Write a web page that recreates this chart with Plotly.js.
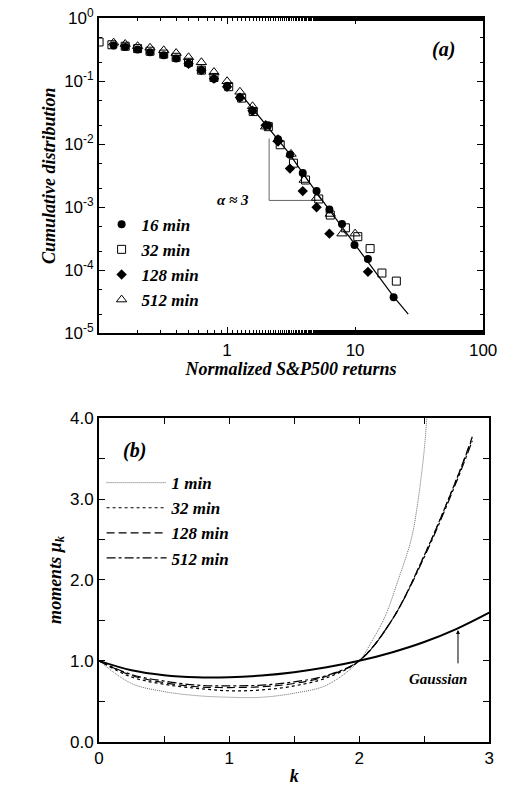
<!DOCTYPE html>
<html>
<head>
<script src="https://cdn.plot.ly/plotly-3.0.1.min.js"></script>
<style>body{margin:0;background:#fff}</style>
</head>
<body>
<div id="plot" style="width:508px;height:795px"></div>
<script>
// panel (a): cumulative distribution
var x16=[0.13,0.16,0.2,0.25,0.32,0.4,0.5,0.63,0.79,1.0,1.26,1.58,2.09,2.5,3.1,3.9,5.0,6.3,7.9,9.9,12.6,20];
var y16=[0.37,0.35,0.32,0.29,0.26,0.23,0.19,0.15,0.11,0.083,0.055,0.034,0.02,0.012,0.0068,0.0035,0.0018,0.00092,0.00054,0.00025,0.00015,0.000037];
var x32=[0.1,0.126,0.16,0.2,0.25,0.32,0.4,0.5,0.63,0.79,1.03,1.3,1.6,2.1,2.6,3.3,4.1,5.2,6.4,8.4,10.5,13.1,16.2,21];
var y32=[0.42,0.38,0.36,0.33,0.30,0.27,0.24,0.2,0.15,0.115,0.082,0.054,0.033,0.019,0.0098,0.005,0.0027,0.00135,0.00075,0.00047,0.00034,0.00022,0.00009,0.000067];
var x128=[0.5,0.63,0.79,1.0,1.26,1.58,2.0,2.5,3.1,3.9,5.0,6.3,12.6];
var y128=[0.19,0.15,0.11,0.082,0.055,0.034,0.02,0.011,0.0041,0.0018,0.001,0.00038,0.000094];
var x512=[0.13,0.16,0.2,0.25,0.32,0.4,0.5,0.63,0.79,1.0,1.26,1.58,2.0,2.5,3.16,4.0,5.0,6.4,7.9,10];
var y512=[0.41,0.39,0.36,0.34,0.31,0.28,0.24,0.2,0.14,0.1,0.068,0.04,0.019,0.012,0.007,0.0027,0.0014,0.00078,0.00038,0.00038];
var xFit=[1.3,2,3,5,10,20,26];
var yFit=[0.06,0.021,0.0075,0.0017,0.00026,0.000038,0.00002];
// slope triangle
var xTri=[2.13,2.13,5.0];
var yTri=[0.0123,0.00128,0.00128];

// panel (b): moments
var kGrid=[0,0.25,0.5,0.75,1,1.25,1.5,1.75,2,2.25,2.5,2.75,3];
var gauss=[1,0.883,0.822,0.797,0.798,0.819,0.86,0.92,1,1.104,1.233,1.396,1.596];
var k1=[0,0.25,0.5,0.75,1,1.25,1.5,1.75,2,2.1,2.2,2.3,2.4,2.45,2.5,2.52];
var m1=[1,0.72,0.62,0.57,0.55,0.55,0.6,0.7,1,1.25,1.55,2.0,2.5,2.95,3.6,4.0];
var kT=[0,0.25,0.5,0.75,1,1.25,1.5,1.75,2,2.25,2.5,2.75,2.87];
var m32=[1,0.8,0.71,0.66,0.63,0.64,0.69,0.79,1,1.5,2.3,3.25,3.75];
var m128=[1,0.82,0.73,0.68,0.67,0.68,0.72,0.81,1,1.5,2.3,3.25,3.77];
var m512=[1,0.83,0.75,0.7,0.69,0.7,0.74,0.82,1,1.5,2.28,3.22,3.72];

var serif={family:'Liberation Serif',size:18,color:'#000',weight:'bold',style:'italic'};
var leg={family:'Liberation Serif',size:17,color:'#000',weight:'bold',style:'italic'};
var sans={family:'Liberation Sans',size:17,color:'#000'};

var data=[
 {x:xTri,y:yTri,mode:'lines',line:{color:'#666',width:1},showlegend:false,hoverinfo:'skip'},
 {x:xFit,y:yFit,mode:'lines',line:{color:'#000',width:1.2},showlegend:false,hoverinfo:'skip'},
 {x:x16,y:y16,mode:'markers',name:'16 min',marker:{symbol:'circle',size:8,color:'#000'},legend:'legend'},
 {x:x32,y:y32,mode:'markers',name:'32 min',marker:{symbol:'square-open',size:8,color:'#000',line:{width:1}},legend:'legend'},
 {x:x128,y:y128,mode:'markers',name:'128 min',marker:{symbol:'diamond',size:8,color:'#000'},legend:'legend'},
 {x:x512,y:y512,mode:'markers',name:'512 min',marker:{symbol:'triangle-up-open',size:9,color:'#000',line:{width:1}},legend:'legend'},
 {x:k1,y:m1,xaxis:'x2',yaxis:'y2',mode:'lines',name:'1 min',line:{color:'#444',width:0.8,dash:'1px,1px',shape:'spline'},legend:'legend2'},
 {x:kT,y:m32,xaxis:'x2',yaxis:'y2',mode:'lines',name:'32 min',line:{color:'#000',width:1.2,dash:'3px,3px',shape:'spline'},legend:'legend2'},
 {x:kT,y:m128,xaxis:'x2',yaxis:'y2',mode:'lines',name:'128 min',line:{color:'#000',width:1.2,dash:'8px,4px',shape:'spline'},legend:'legend2'},
 {x:kT,y:m512,xaxis:'x2',yaxis:'y2',mode:'lines',name:'512 min',line:{color:'#000',width:1.2,dash:'dashdot',shape:'spline'},legend:'legend2'},
 {x:kGrid,y:gauss,xaxis:'x2',yaxis:'y2',mode:'lines',line:{color:'#000',width:2,shape:'spline'},showlegend:false}
];

var ax={showline:true,mirror:'ticks',linecolor:'#000',linewidth:2,ticks:'inside',ticklen:6,tickcolor:'#000',
  showgrid:false,zeroline:false,tickfont:sans};
var L=Math.log10;
var layout={
 width:508,height:795,margin:{l:0,r:0,t:0,b:0},paper_bgcolor:'#fff',plot_bgcolor:'#fff',
 xaxis:Object.assign({},ax,{type:'log',range:[-1,2],domain:[0.195,0.951],anchor:'y',
   tickvals:[1,10,100],ticktext:['1','10','100'],minor:{ticks:'inside',ticklen:3,tickcolor:'#000'},
   title:{text:'Normalized S&P500 returns',font:serif,standoff:4}}),
 yaxis:Object.assign({},ax,{type:'log',range:[-5,0],domain:[0.581,0.977],anchor:'x',
   tickvals:[1,0.1,0.01,0.001,0.0001,0.00001],
   ticktext:['10<sup>0</sup>','10<sup>-1</sup>','10<sup>-2</sup>','10<sup>-3</sup>','10<sup>-4</sup>','10<sup>-5</sup>'],
   minor:{ticks:'inside',ticklen:3,tickcolor:'#000'},
   title:{text:'Cumulative distribution',font:serif,standoff:4}}),
 xaxis2:Object.assign({},ax,{range:[0,3],domain:[0.195,0.963],anchor:'y2',dtick:1,
   minor:{ticks:'inside',dtick:0.5,ticklen:6,tickcolor:'#000'},
   title:{text:'k',font:serif,standoff:2}}),
 yaxis2:Object.assign({},ax,{range:[0,4],domain:[0.067,0.474],anchor:'x2',dtick:1,tickformat:'.1f',
   minor:{ticks:'inside',dtick:0.5,ticklen:6,tickcolor:'#000'},
   title:{text:'moments μ<sub>k</sub>',font:serif,standoff:4}}),
 legend:{x:0.2,y:0.74,xanchor:'left',yanchor:'top',font:leg,bgcolor:'rgba(0,0,0,0)',itemwidth:30,tracegroupgap:0},
 legend2:{x:0.2,y:0.415,xanchor:'left',yanchor:'top',font:leg,bgcolor:'rgba(0,0,0,0)',itemwidth:60},
 annotations:[
  {xref:'paper',yref:'paper',x:0.9,y:0.955,text:'(a)',showarrow:false,font:Object.assign({},serif,{size:20})},
  {xref:'x',yref:'y',x:0.05,y:L(0.0013),text:'α ≈ 3',showarrow:false,font:Object.assign({},leg,{size:15})},
  {xref:'x2',yref:'y2',x:0.27,y:3.6,text:'(b)',showarrow:false,font:Object.assign({},serif,{size:20})},
  {xref:'x2',yref:'y2',x:2.61,y:0.78,text:'Gaussian',showarrow:false,font:Object.assign({},leg,{size:15})},
  {xref:'x2',yref:'y2',x:2.76,y:1.38,ax:2.76,ay:0.95,axref:'x2',ayref:'y2',text:'',showarrow:true,arrowhead:2,arrowsize:0.8,arrowwidth:1,arrowcolor:'#000'}
 ]
};
Plotly.newPlot('plot',data,layout,{displayModeBar:false,staticPlot:true});
</script>
</body>
</html>
